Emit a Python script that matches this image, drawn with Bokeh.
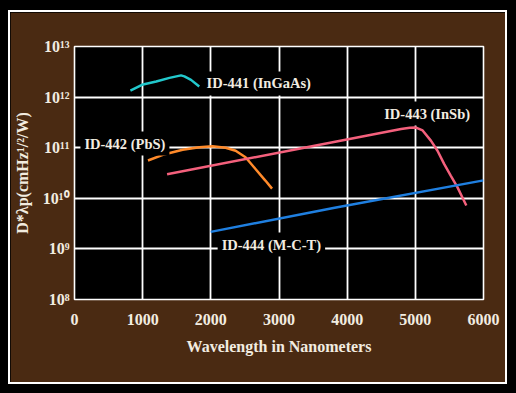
from bokeh.plotting import figure
from bokeh.models import FixedTicker, ColumnDataSource
from bokeh.core.properties import value
from bokeh.embed import file_html
from bokeh.resources import INLINE

# ---- data ----
ingaas_x = [820, 1005, 1199, 1393, 1563, 1612, 1709, 1830]
ingaas_y = [1.35e12, 1.78e12, 2.04e12, 2.40e12, 2.69e12, 2.57e12, 2.19e12, 1.62e12]

pbs_x = [1078, 1296, 1587, 1830, 2024, 2218, 2364, 2509, 2655, 2800, 2898]
pbs_y = [5.58e10, 7.24e10, 9.12e10, 1.02e11, 1.07e11, 1.0e11, 8.7e10, 6.46e10, 3.8e10, 2.24e10, 1.55e10]

insb_x = [1358, 3332, 4791, 4920, 5010, 5107, 5228, 5325, 5422, 5519, 5617, 5689, 5748]
insb_y = [2.98e10, 9.75e10, 2.34e11, 2.48e11, 2.5e11, 2.19e11, 1.38e11, 8.7e10, 4.8e10, 2.82e10,
          1.66e10, 1.05e10, 7.2e9]

mct_x = [1998, 3817, 6000]
mct_y = [2.17e9, 6.5e9, 2.26e10]

label_text = ["ID-441 (InGaAs)", "ID-442 (PbS)", "ID-443 (InSb)", "ID-444 (M-C-T)"]
label_x = [1879, 87, 4485, 2100]
label_y = [1.86e12, 1.21e11, 4.74e11, 1.22e9]

x_ticks = [0, 1000, 2000, 3000, 4000, 5000, 6000]
y_ticks = [1e8, 1e9, 1e10, 1e11, 1e12, 1e13]
y_tick_labels = ["10⁸", "10⁹", "10¹⁰", "10¹¹", "10¹²", "10¹³"]

BROWN = "#4a2a12"
CREAM = "#f2ece0"
FONT = "Liberation Serif"

p = figure(width=495, height=370, output_backend="svg", toolbar_location=None,
           x_range=(0, 6000), y_range=(1e8, 1e13), y_axis_type="log",
           min_border_left=61, min_border_right=22, min_border_top=34, min_border_bottom=83)
p.border_fill_color = BROWN
p.background_fill_color = "black"
p.outline_line_color = "white"
p.outline_line_width = 1.6
p.styles = {"outline": "2px solid white", "outline-offset": "0px"}

p.xaxis.ticker = FixedTicker(ticks=x_ticks)
p.yaxis.ticker = FixedTicker(ticks=y_ticks)
p.yaxis.major_label_overrides = {t: s for t, s in zip(y_ticks, y_tick_labels)}

for ax in (p.xaxis, p.yaxis):
    ax.axis_line_color = None
    ax.major_tick_line_color = None
    ax.minor_tick_line_color = None
    ax.major_tick_out = 0
    ax.major_tick_in = 0
    ax.major_label_text_color = CREAM
    ax.major_label_text_font = FONT
    ax.major_label_text_font_style = "bold"
    ax.major_label_text_font_size = "16px"
    ax.axis_label_text_color = CREAM
    ax.axis_label_text_font = FONT
    ax.axis_label_text_font_style = "bold"
    ax.axis_label_text_font_size = "16px"

p.xaxis.major_label_standoff = 14
p.yaxis.major_label_standoff = 5
p.xaxis.axis_label = "Wavelength in Nanometers"
p.yaxis.axis_label = "D*λp(cmHz¹/²/W)"
p.xaxis.axis_label_standoff = 10
p.yaxis.axis_label_standoff = 9

p.xgrid.ticker = FixedTicker(ticks=x_ticks)
p.ygrid.ticker = FixedTicker(ticks=y_ticks)
for g in (p.xgrid, p.ygrid):
    g.grid_line_color = "white"
    g.grid_line_width = 1.8
p.ygrid.minor_grid_line_color = None

p.line(ingaas_x, ingaas_y, line_color="#22c8cc", line_width=2.5)
p.line(pbs_x, pbs_y, line_color="#ff8a2a", line_width=2.5)
p.line(insb_x, insb_y, line_color="#f4607c", line_width=2.5)
p.line(mct_x, mct_y, line_color="#1f7fe0", line_width=2.5)

src = ColumnDataSource(dict(x=label_x, y=label_y, t=label_text))
p.text(x="x", y="y", text="t", source=src,
       text_color=CREAM, text_font=value(FONT), text_font_style="bold",
       text_font_size="14.5px", text_baseline="middle", text_align="left",
       background_fill_color="black", padding=4)

open("out.html", "w").write(file_html(p, INLINE).replace(
    "<body>", '<body style="background:#000;padding:12px 10px 10px 10px">'))
